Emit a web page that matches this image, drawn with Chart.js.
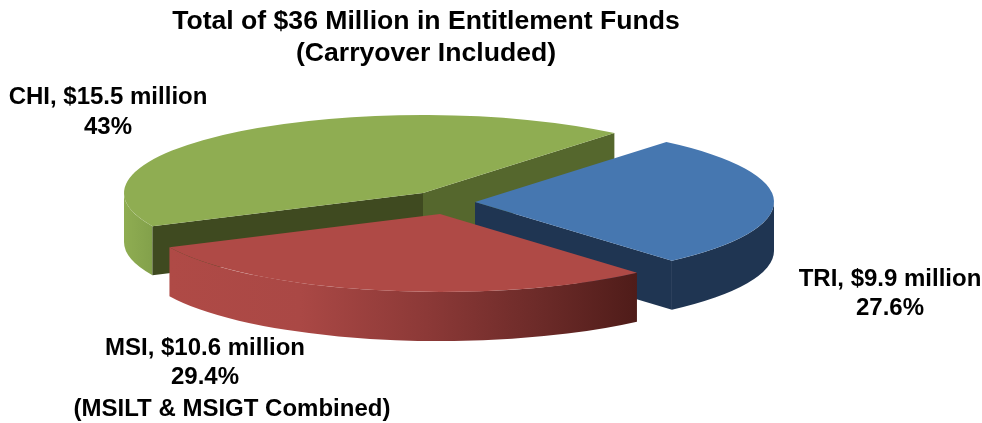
<!DOCTYPE html>
<html>
<head>
<meta charset="utf-8">
<title>Entitlement Funds</title>
<script src="https://cdn.jsdelivr.net/npm/chart.js@4/dist/chart.umd.min.js"></script>
<style>
  html, body { margin: 0; padding: 0; background: #fff; }
  canvas { display: block; }
</style>
</head>
<body>
<canvas id="fundsChart" width="982" height="423"></canvas>
<script>
// Chart data
const categories = ['TRI', 'MSI', 'CHI'];
const fundsMillion = [9.9, 10.6, 15.5];
const percentLabels = ['27.6%', '29.4%', '43%'];
const titleLines = ['Total of $36 Million in Entitlement Funds', '(Carryover Included)'];
const msiNote = '(MSILT & MSIGT Combined)';

// Colours for each slice
const topColors = ['#4677b0', '#af4a46', '#8fad52'];
const wallColors = ['#1f3552', null, null];
const startFaceColors = [null, null, '#3f4a20'];
const endFaceColors = ['#1f3552', null, '#55672d'];

// Look of the tilted pie: where each exploded slice sits on the page
const sliceCenters = [[475, 202], [440, 214], [423, 193]];
const radiusX = 299;
const radiusY = 78;
const depth = 49;
const drawOrder = [2, 0, 1]; // back to front

const labelFont = 'bold 24px "Liberation Sans", Arial, sans-serif';

function wallFill(ctx, i) {
    if (wallColors[i]) return wallColors[i];
    const cx = sliceCenters[i][0];
    if (i === 1) {
        const g = ctx.createLinearGradient(169, 0, 637, 0);
        g.addColorStop(0, '#af4a46');
        g.addColorStop(0.28, '#aa4845');
        g.addColorStop(0.55, '#8c3937');
        g.addColorStop(0.8, '#6b2a28');
        g.addColorStop(1, '#4f1c19');
        return g;
    }
    const g = ctx.createLinearGradient(cx - radiusX, 0, cx - radiusX + 30, 0);
    g.addColorStop(0, '#8fad52');
    g.addColorStop(1, '#82a04a');
    return g;
}

function drawWall(ctx, i, start, end) {
    const lo = Math.max(start, 0);
    const hi = Math.min(end, Math.PI);
    if (hi <= lo) return;
    const [cx, cy] = sliceCenters[i];
    ctx.beginPath();
    ctx.ellipse(cx, cy, radiusX, radiusY, 0, lo, hi);
    ctx.ellipse(cx, cy + depth, radiusX, radiusY, 0, hi, lo, true);
    ctx.closePath();
    ctx.fillStyle = wallFill(ctx, i);
    ctx.fill();
}

function drawFace(ctx, i, angle, color) {
    if (!color) return;
    const [cx, cy] = sliceCenters[i];
    const ex = cx + radiusX * Math.cos(angle);
    const ey = cy + radiusY * Math.sin(angle);
    ctx.beginPath();
    ctx.moveTo(cx, cy);
    ctx.lineTo(ex, ey);
    ctx.lineTo(ex, ey + depth);
    ctx.lineTo(cx, cy + depth);
    ctx.closePath();
    ctx.fillStyle = color;
    ctx.fill();
}

// Squash the library's arcs into an ellipse and give them side walls
const tiltedPie = {
    id: 'tiltedPie',
    beforeDatasetsDraw(chart) {
        const ctx = chart.ctx;
        const arcs = chart.getDatasetMeta(0).data;
        drawOrder.forEach(i => {
            const arc = arcs[i];
            const [cx, cy] = sliceCenters[i];
            drawWall(ctx, i, arc.startAngle, arc.endAngle);
            drawFace(ctx, i, arc.startAngle, startFaceColors[i]);
            drawFace(ctx, i, arc.endAngle, endFaceColors[i]);
            ctx.save();
            ctx.translate(cx, cy);
            ctx.scale(radiusX / arc.outerRadius, radiusY / arc.outerRadius);
            ctx.translate(-arc.x, -arc.y);
            arc.draw(ctx);
            ctx.restore();
        });
        return false;
    },
    afterDraw(chart) {
        const ctx = chart.ctx;
        ctx.save();
        ctx.font = labelFont;
        ctx.fillStyle = '#000';
        ctx.textAlign = 'center';
        ctx.textBaseline = 'middle';
        const spots = [[890, 279, 308], [205, 348, 377], [108, 97, 127]];
        categories.forEach((name, i) => {
            const [x, y1, y2] = spots[i];
            ctx.fillText(name + ', $' + fundsMillion[i] + ' million', x, y1);
            ctx.fillText(percentLabels[i], x, y2);
        });
        ctx.fillText(msiNote, 232, 409);
        ctx.restore();
    }
};

new Chart(document.getElementById('fundsChart'), {
    type: 'pie',
    plugins: [tiltedPie],
    data: {
        labels: categories,
        datasets: [{
            data: fundsMillion,
            backgroundColor: topColors,
            borderWidth: 0
        }]
    },
    options: {
        responsive: false,
        animation: false,
        devicePixelRatio: 1,
        rotation: 39.8,
        layout: { padding: { right: 130, top: 6 } },
        plugins: {
            legend: { display: false },
            tooltip: { enabled: false },
            title: {
                display: true,
                text: titleLines,
                color: '#000',
                font: { family: '"Liberation Sans", Arial, sans-serif', size: 26.6, weight: 'bold', lineHeight: 1.2 },
                padding: 0
            }
        }
    }
});
</script>
</body>
</html>
